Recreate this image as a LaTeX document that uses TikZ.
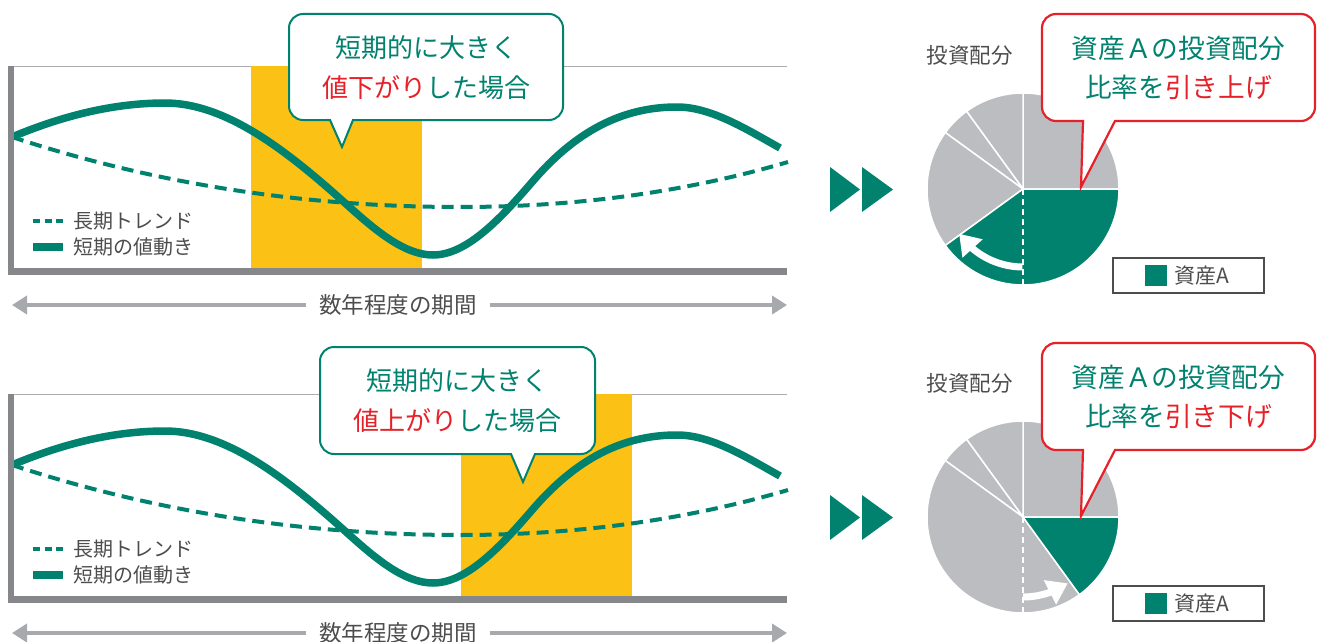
\documentclass[tikz,border=0pt]{standalone}
\usepackage{fontspec}
\setmainfont{Noto Sans CJK JP}
\usetikzlibrary{arrows.meta,bending,calc}
\definecolor{tl}{HTML}{00826F}
\definecolor{gold}{HTML}{FBC115}
\definecolor{rd}{HTML}{E62129}
\definecolor{pg}{HTML}{BCBDC0}
\definecolor{axg}{HTML}{86878B}
\definecolor{lg}{HTML}{ABABAD}
\definecolor{ag}{HTML}{A8A9AC}
\definecolor{tg}{HTML}{4D4D4D}
\newcommand\bubble[9]{%
  \draw[#1] (#8,#9) -- (#7,#5) -- ({#4-14},#5) arc[start angle=90,end angle=0,radius=14]
    -- (#4,{#3+14}) arc[start angle=0,end angle=-90,radius=14]
    -- ({#2+14},#3) arc[start angle=-90,end angle=-180,radius=14]
    -- (#2,{#5-14}) arc[start angle=180,end angle=90,radius=14]
    -- (#6,#5) -- cycle;}
\newcommand\piewedge[4]{%
  \fill[#1,draw=white,line width=1.5pt] (#2) -- ++(#3:96) arc[start angle=#3,end angle=#4,radius=96] -- cycle;}
\newcommand\panel[3]{%
  \draw[topline] (14,66.7) -- (787,66.7);
  \fill[gold] (#2,65.9) rectangle (#3,269);
  \draw[trend] (12,137) .. controls (161,186) and (311,207) .. (460,207)
                        .. controls (569,207) and (679,194) .. (788,162);
  \draw[wave] (12,137) .. controls (63,115.6) and (114,103) .. (165,103)
                       .. controls (225,103) and (285,149) .. (345,203)
                       .. controls (374.3,229.4) and (403.7,255) .. (433,255)
                       .. controls (466.3,255) and (499.7,219.7) .. (533,181)
                       .. controls (581,125.3) and (629,107) .. (677,107)
                       .. controls (711,107) and (746,129) .. (780,148);
  \draw[axisline] (11,66) -- (11,275);
  \draw[axisline] (8,271.7) -- (787,271.7);
  \draw[trend,dash pattern=on 7pt off 4.5pt] (33,221) -- (63,221);
  \node[legtext] (#1l1) at (73,221) {長期トレンド};
  \draw[wave] (33,247) -- (63,247);
  \node[legtext] (#1l2) at (73,247) {短期の値動き};
  \node[periodlabel] (#1period) at (398,305) {数年程度の期間};
  \coordinate (#1la) at (12,305);
  \coordinate (#1ra) at (787,305);
  \draw[grayarrow] (#1period.west) -- (#1la);
  \draw[grayarrow] (#1period.east) -- (#1ra);
  \fill[tl] (830,167) -- (860,189.5) -- (830,212) -- cycle;
  \fill[tl] (862,167) -- (893,189.5) -- (862,212) -- cycle;
  \node[pielabel] (#1pl) at (969.5,55) {投資配分};
  \coordinate (#1c) at (1023,189);
  \coordinate (#1cb) at (1023,285);
  \node[draw=tg,line width=1.3pt,minimum width=151pt,minimum height=35pt,inner sep=0pt] (#1lb) at (1188.5,275.5) {};
  \node[fill=tl,minimum width=22pt,minimum height=21pt,inner sep=0pt] (#1sq) at (1156,275.5) {};
  \node[anchor=west,inner sep=0pt,text=tg,font=\fontsize{21}{25}\selectfont] (#1lt) at (1174,276) {資産A};
}
\begin{document}
\begin{tikzpicture}[x=1pt,y=-1pt,
  topline/.style={lg,line width=1.5pt},
  axisline/.style={axg,line width=6.5pt},
  trend/.style={tl,line width=4pt,dash pattern=on 12pt off 7pt},
  wave/.style={tl,line width=7.5pt},
  legtext/.style={anchor=west,inner sep=0pt,text=tg,font=\fontsize{20}{24}\selectfont},
  periodlabel/.style={inner xsep=13pt,inner ysep=0pt,text=tg,font=\fontsize{22.5}{26}\selectfont},
  grayarrow/.style={ag,line width=4.5pt,-{Triangle[width=18pt,length=15pt]}},
  pielabel/.style={text=tg,inner sep=0pt,font=\fontsize{21.5}{25}\selectfont},
  tcall/.style={draw=tl,line width=2pt,fill=white},
  rcall/.style={draw=rd,line width=2.2pt,fill=white},
  calltext/.style={align=center,inner sep=0pt,text=tl,font=\fontsize{26}{40}\selectfont},
  piedash/.style={white,line width=2pt,dash pattern=on 6pt off 4pt},
  whitearrow/.style={white,line width=7pt,-{Triangle[width=26pt,length=20pt]}}
]
\useasboundingbox (0,0) rectangle (1320,642);
\fill[white] (0,0) rectangle (1320,642);

% ---------- top panel ----------
\panel{a}{251}{422}
\piewedge{pg}{ac}{-90}{0}
\piewedge{pg}{ac}{-126}{-90}
\piewedge{pg}{ac}{-144}{-126}
\piewedge{pg}{ac}{144}{216}
\piewedge{tl}{ac}{0}{144}
\draw[piedash] (ac) -- (acb);
\coordinate (aas) at ($(ac)+(90.5:78)$);
\draw[whitearrow] (aas) arc[start angle=90.5,end angle=145,radius=78];
\bubble{tcall}{289}{14}{563}{120}{330}{353}{342}{147}
\node[calltext] (acall) at (426,68) {短期的に大きく\\\textcolor{rd}{値下がり}した場合};
\bubble{rcall}{1042}{14}{1315}{121}{1083}{1115}{1081}{187}
\node[calltext,font=\fontsize{26.7}{39}\selectfont] (arcall) at (1178.5,68) {資産Ａの投資配分\\比率を\textcolor{rd}{引き上げ}};

% ---------- bottom panel ----------
\begin{scope}[shift={(0,328)}]
\panel{b}{461}{632}
\piewedge{pg}{bc}{-90}{0}
\piewedge{pg}{bc}{-126}{-90}
\piewedge{pg}{bc}{-144}{-126}
\piewedge{pg}{bc}{54}{216}
\piewedge{tl}{bc}{0}{54}
\draw[piedash] (bc) -- (bcb);
\coordinate (bas) at ($(bc)+(90:80)$);
\draw[whitearrow] (bas) arc[start angle=90,end angle=56,radius=80];
\end{scope}
\bubble{tcall}{320}{347}{595}{454}{511}{535}{523}{482}
\node[calltext] (bcall) at (457.5,401) {短期的に大きく\\\textcolor{rd}{値上がり}した場合};
\bubble{rcall}{1042}{343}{1315}{450}{1083}{1115}{1081}{516}
\node[calltext,font=\fontsize{26.7}{39}\selectfont] (brcall) at (1178.5,397) {資産Ａの投資配分\\比率を\textcolor{rd}{引き下げ}};
\end{tikzpicture}
\end{document}
